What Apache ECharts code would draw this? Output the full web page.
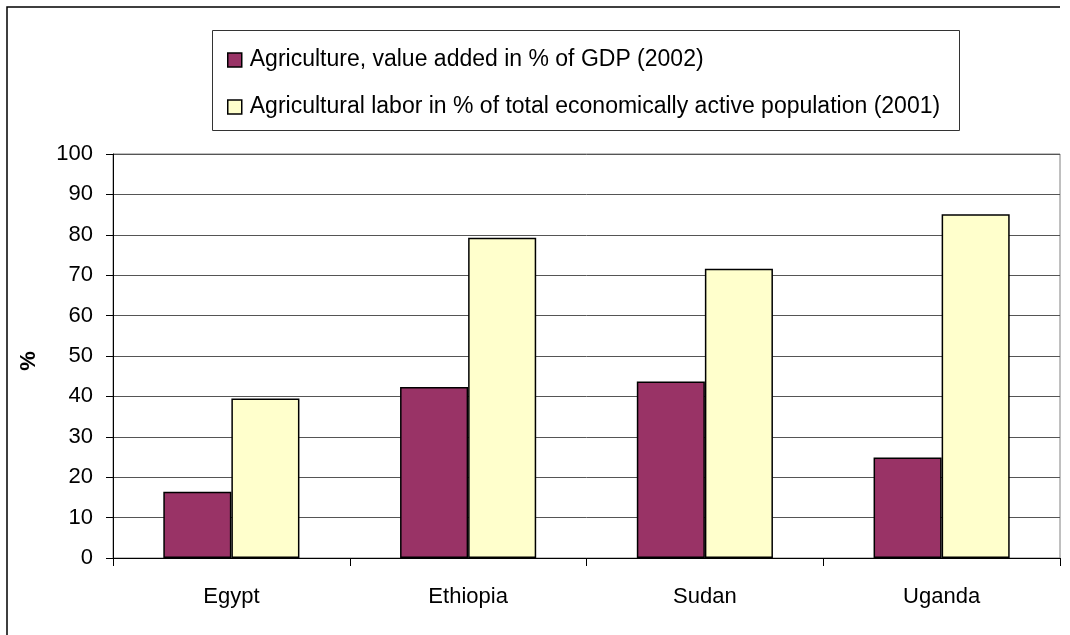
<!DOCTYPE html>
<html>
<head>
<meta charset="utf-8">
<script src="https://cdn.jsdelivr.net/npm/echarts@6/dist/echarts.min.js"></script>
<style>
  html, body { margin: 0; padding: 0; background: #fff; }
  #chart { width: 1070px; height: 635px; }
</style>
</head>
<body>
<div id="chart"></div>
<script>
// Countries on the category axis
const countries = ['Egypt', 'Ethiopia', 'Sudan', 'Uganda'];

// Agriculture, value added in % of GDP (2002)
const gdpShare = [16.4, 42.3, 43.7, 24.9];

// Agricultural labor in % of total economically active population (2001)
const laborShare = [39.5, 79.3, 71.6, 85.1];

const seriesNames = [
  'Agriculture, value added in % of GDP (2002)',
  'Agricultural labor in % of total economically active population (2001)'
];

const yTicks = { min: 0, max: 100, step: 10 };

const FONT = '"Liberation Sans", Arial, sans-serif';

const chart = echarts.init(document.getElementById('chart'), null, { renderer: 'canvas' });

chart.setOption({
  animation: false,
  backgroundColor: '#ffffff',
  textStyle: { fontFamily: FONT, color: '#000' },
  graphic: [
    // outer frame (top and left edges)
    {
      type: 'polyline',
      shape: { points: [[7, 640], [7, 7], [1060, 7]] },
      style: { stroke: '#000', lineWidth: 1.5, fill: null },
      silent: true
    },
    // legend box
    {
      type: 'rect',
      shape: { x: 212.5, y: 30.5, width: 747, height: 100 },
      style: { stroke: '#333', lineWidth: 1, fill: '#fff' },
      z: 0,
      silent: true
    }
  ],
  legend: {
    orient: 'vertical',
    left: 222,
    top: 43,
    itemWidth: 14,
    itemHeight: 14,
    itemGap: 23,
    icon: 'rect',
    itemStyle: { borderColor: '#000', borderWidth: 1.5 },
    textStyle: { fontFamily: FONT, fontSize: 23, color: '#000', lineHeight: 24, padding: [0, 0, 0, 3] },
    z: 5
  },
  grid: {
    left: 113,
    right: 10,
    top: 154,
    bottom: 77,
    show: true,
    borderColor: '#808080',
    borderWidth: 1,
    backgroundColor: 'transparent'
  },
  xAxis: {
    type: 'category',
    data: countries,
    boundaryGap: true,
    axisLine: { show: true, lineStyle: { color: '#000', width: 1 } },
    axisTick: { show: true, length: 8, alignWithLabel: false, lineStyle: { color: '#000' } },
    axisLabel: { fontFamily: FONT, fontSize: 22, color: '#000', margin: 28 }
  },
  yAxis: {
    type: 'value',
    min: yTicks.min,
    max: yTicks.max,
    interval: yTicks.step,
    name: '%',
    nameLocation: 'middle',
    nameRotate: 90,
    nameGap: 73,
    nameTextStyle: {
      fontFamily: FONT, fontSize: 22, fontWeight: 'bold', color: '#000',
      padding: [0, 10, 0, 0]
    },
    axisLine: { show: true, lineStyle: { color: '#000', width: 1 } },
    axisTick: { show: true, length: 7, lineStyle: { color: '#000' } },
    axisLabel: { fontFamily: FONT, fontSize: 22, color: '#000', margin: 20 },
    splitLine: { show: true, lineStyle: { color: '#555', width: 1 } }
  },
  series: [
    {
      name: seriesNames[0],
      type: 'bar',
      data: gdpShare,
      barGap: '0%',
      barCategoryGap: '42.5%',
      itemStyle: { color: '#993366', borderColor: '#000', borderWidth: 1.5 }
    },
    {
      name: seriesNames[1],
      type: 'bar',
      data: laborShare,
      barGap: '0%',
      barCategoryGap: '42.5%',
      itemStyle: { color: '#FFFFCC', borderColor: '#000', borderWidth: 1.5 }
    }
  ]
});
</script>
</body>
</html>
